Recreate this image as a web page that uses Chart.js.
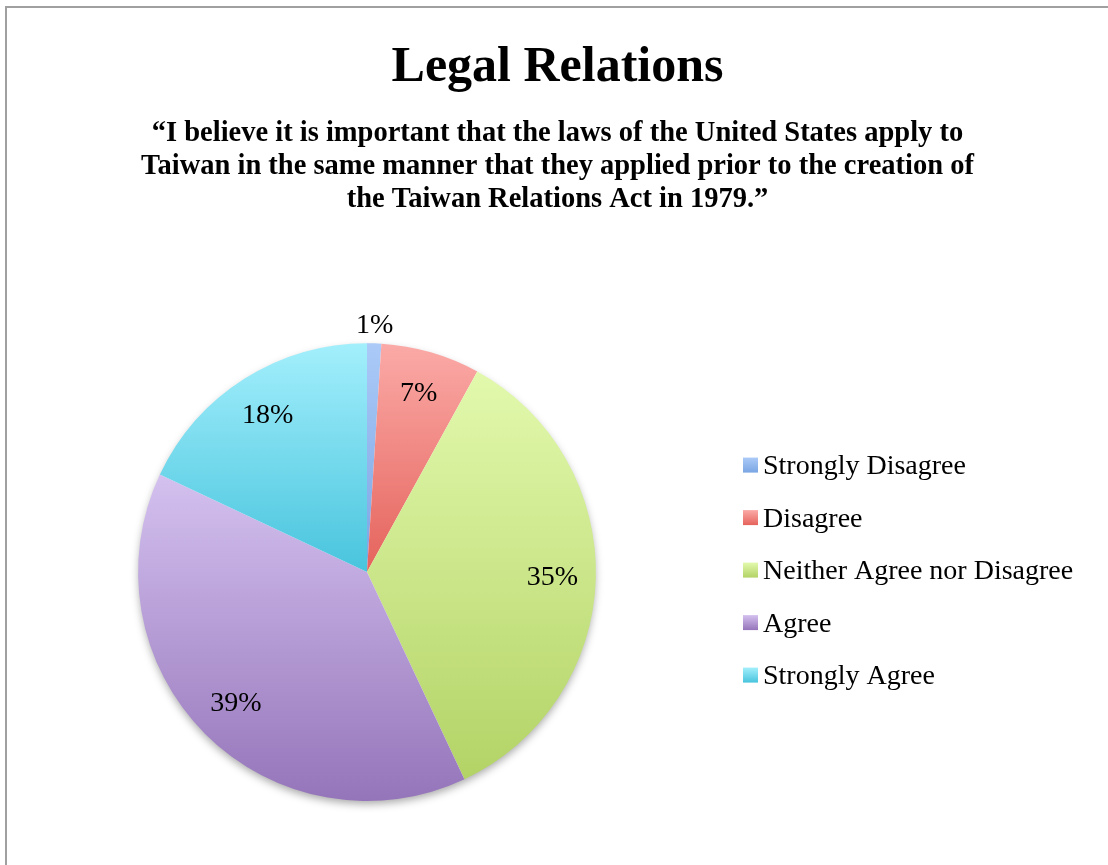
<!DOCTYPE html>
<html>
<head>
<meta charset="utf-8">
<script src="https://cdn.jsdelivr.net/npm/chart.js@4.4.1/dist/chart.umd.min.js"></script>
<style>
    html, body { margin: 0; padding: 0; background: #fff; overflow: hidden; }
    #frame {
        position: absolute; left: 5px; top: 6px; width: 1120px; height: 880px;
        border-left: 2px solid #a0a0a0; border-top: 2px solid #a0a0a0;
    }
    #wrap { position: absolute; left: 7px; top: 8px; width: 1101px; height: 857px; }
</style>
</head>
<body>
<div id="frame"></div>
<div id="wrap"><canvas id="chart"></canvas></div>
<script>
// chart data
const labels = ['Strongly Disagree', 'Disagree', 'Neither Agree nor Disagree', 'Agree', 'Strongly Agree'];
const values = [1, 7, 35, 39, 18];
const topColors = ['#abcaf8', '#fbaaa7', '#e2f9ad', '#d4c1ef', '#a3effc'];
const bottomColors = ['#7aa5e3', '#e5635c', '#b3d366', '#9575ba', '#48c4dd'];
const titleText = 'Legal Relations';
const subtitleLines = [
    '\u201cI believe it is important that the laws of the United States apply to',
    'Taiwan in the same manner that they applied prior to the creation of',
    'the Taiwan Relations Act in 1979.\u201d'
];

const SERIF = '"Liberation Serif", "DejaVu Serif", serif';

// vertical gradient over each slice's own extent, like the office chart
function sliceFill(ctx) {
    const chart = ctx.chart;
    const i = ctx.dataIndex;
    const area = chart.chartArea;
    if (!area) return topColors[i];
    const total = values.reduce((a, b) => a + b, 0);
    let before = 0;
    for (let k = 0; k < i; k++) before += values[k];
    const a0 = -Math.PI / 2 + 2 * Math.PI * before / total;
    const a1 = a0 + 2 * Math.PI * values[i] / total;
    const cy = (area.top + area.bottom) / 2;
    const r = Math.min(area.right - area.left, area.bottom - area.top) / 2;
    let ys = [cy, cy + r * Math.sin(a0), cy + r * Math.sin(a1)];
    if (a0 <= Math.PI / 2 && a1 >= Math.PI / 2) ys.push(cy + r);
    if (a1 >= 1.5 * Math.PI) ys.push(cy - r);
    const y0 = Math.min(...ys), y1 = Math.max(...ys);
    const g = chart.ctx.createLinearGradient(0, y0, 0, y1);
    g.addColorStop(0, topColors[i]);
    g.addColorStop(1, bottomColors[i]);
    return g;
}

// soft shadow under the pie
const pieShadow = {
    id: 'pieShadow',
    beforeDatasetsDraw(chart) {
        const arc = chart.getDatasetMeta(0).data[0];
        if (!arc) return;
        const c = chart.ctx;
        c.save();
        c.shadowColor = 'rgba(0,0,0,0.35)';
        c.shadowBlur = 9;
        c.shadowOffsetX = 0;
        c.shadowOffsetY = 4;
        c.fillStyle = '#ffffff';
        c.beginPath();
        c.arc(arc.x, arc.y, arc.outerRadius - 1, 0, 2 * Math.PI);
        c.fill();
        c.restore();
    }
};

// percentage labels
const sliceLabels = {
    id: 'sliceLabels',
    afterDatasetsDraw(chart) {
        const c = chart.ctx;
        const meta = chart.getDatasetMeta(0);
        const total = values.reduce((a, b) => a + b, 0);
        c.save();
        c.font = '28px ' + SERIF;
        c.fillStyle = '#000';
        c.textAlign = 'center';
        c.textBaseline = 'middle';
        meta.data.forEach((arc, i) => {
            const mid = (arc.startAngle + arc.endAngle) / 2;
            const small = values[i] / total < 0.03;
            const dist = small ? arc.outerRadius + 18 : arc.outerRadius * 0.81;
            const x = arc.x + Math.cos(mid) * dist;
            const y = arc.y + Math.sin(mid) * dist;
            c.fillText(Math.round(values[i] / total * 100) + '%', x, y);
        });
        c.restore();
    }
};

// reserves a column on the right (title stays full width) and draws the legend in it
const sideLegend = {
    id: 'sideLegend',
    beforeInit(chart) {
        const box = {
            position: 'right',
            weight: 0,
            fullSize: false,
            options: {},
            isHorizontal() { return false; },
            update(maxWidth, maxHeight) {
                this.width = 381;
                this.height = maxHeight;
                return { width: this.width, height: this.height };
            },
            draw() {}
        };
        Chart.layouts.addBox(chart, box);
    },
    afterDraw(chart) {
        const arc = chart.getDatasetMeta(0).data[0];
        if (!arc) return;
        const c = chart.ctx;
        const rowGap = 52.5;
        const bx = arc.x + 376;
        const sq = 15;
        c.save();
        c.font = '28px ' + SERIF;
        c.textBaseline = 'middle';
        labels.forEach((l, i) => {
            const y = arc.y + (i - (labels.length - 1) / 2) * rowGap;
            const g = c.createLinearGradient(0, y - sq / 2 - 2, 0, y + sq / 2 - 2);
            g.addColorStop(0, topColors[i]);
            g.addColorStop(1, bottomColors[i]);
            c.fillStyle = g;
            c.fillRect(bx, y - sq / 2 - 2, sq, sq);
            c.fillStyle = '#000';
            c.fillText(l, bx + sq + 5, y);
        });
        c.restore();
    }
};

const data = {
    labels: labels,
    datasets: [{
        data: values,
        backgroundColor: sliceFill,
        borderWidth: 0,
        hoverOffset: 0
    }]
};

const config = {
    type: 'pie',
    data: data,
    options: {
        responsive: true,
        maintainAspectRatio: false,
        animation: false,
        layout: {
            padding: { left: 0, right: 0, top: 0, bottom: 64 }
        },
        plugins: {
            title: {
                display: true,
                text: titleText,
                color: '#000',
                font: { family: SERIF, size: 50, weight: 'bold', lineHeight: 1.2 },
                padding: { top: 30, bottom: 19 }
            },
            subtitle: {
                display: true,
                text: subtitleLines,
                color: '#000',
                font: { family: SERIF, size: 28.5, weight: 'bold', lineHeight: 1.16 },
                padding: { top: 0, bottom: 127 }
            },
            legend: { display: false },
            tooltip: { enabled: false }
        }
    },
    plugins: [pieShadow, sliceLabels, sideLegend]
};

new Chart(document.getElementById('chart').getContext('2d'), config);
</script>
</body>
</html>
